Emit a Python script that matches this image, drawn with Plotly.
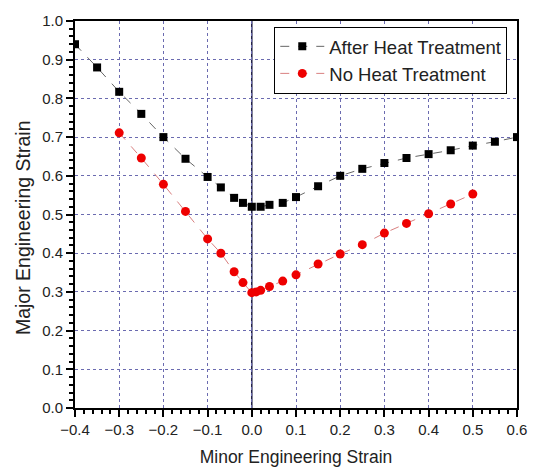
import plotly.graph_objects as go

after_x = [-0.4, -0.35, -0.3, -0.25, -0.2, -0.15, -0.1, -0.07, -0.04, -0.02, 0.0, 0.02, 0.04,
           0.07, 0.1, 0.15, 0.2, 0.25, 0.3, 0.35, 0.4, 0.45, 0.5, 0.55, 0.6]
after_y = [0.94, 0.88, 0.817, 0.76, 0.70, 0.644, 0.597, 0.57, 0.543, 0.53, 0.52, 0.52, 0.525,
           0.53, 0.545, 0.573, 0.60, 0.618, 0.633, 0.646, 0.656, 0.666, 0.678, 0.688, 0.70]
no_x = [-0.3, -0.25, -0.2, -0.15, -0.1, -0.07, -0.04, -0.02, 0.0, 0.01, 0.02, 0.04, 0.07,
        0.1, 0.15, 0.2, 0.25, 0.3, 0.35, 0.4, 0.45, 0.5]
no_y = [0.711, 0.646, 0.578, 0.508, 0.437, 0.40, 0.352, 0.324, 0.298, 0.300, 0.304, 0.314,
        0.328, 0.344, 0.372, 0.398, 0.422, 0.452, 0.477, 0.502, 0.527, 0.553]

x_title = "Minor Engineering Strain"
y_title = "Major Engineering Strain"

font = "Arial, Liberation Sans, sans-serif"

fig = go.Figure()
fig.add_trace(go.Scatter(x=after_x, y=after_y, mode="lines+markers", name="After Heat Treatment",
                         line=dict(color="#666666", width=1, dash="dash"),
                         marker=dict(symbol="square", size=8, color="black")))
fig.add_trace(go.Scatter(x=no_x, y=no_y, mode="lines+markers", name="No Heat Treatment",
                         line=dict(color="#d98080", width=1, dash="dash"),
                         marker=dict(symbol="circle", size=9, color="#ee0000")))

fig.add_shape(type="line", x0=0, x1=0, y0=0, y1=1, xref="x", yref="y",
              line=dict(color="#1a1a40", width=1.5), layer="below")

axis_common = dict(
    showline=True, linecolor="black", linewidth=2, mirror=True,
    ticks="outside", ticklen=7, tickwidth=1.5, tickcolor="black",
    showgrid=True, gridcolor="#6b6bb0", griddash="dot", gridwidth=1,
    zeroline=False, tickfont=dict(family=font, size=15, color="#222"),
    minor=dict(ticks="outside", ticklen=4, tickwidth=1.5, tickcolor="black", showgrid=False),
)

fig.update_xaxes(range=[-0.4, 0.6], dtick=0.1, tickformat=".1f",
                 title=dict(text=x_title, font=dict(family=font, size=17.5, color="#222"),
                            standoff=14),
                 **axis_common)
fig.update_yaxes(range=[0, 1.0], dtick=0.1, tickformat=".1f", **axis_common)

fig.add_annotation(text=y_title, xref="paper", yref="paper", x=-0.118, y=0.467,
                   xanchor="center", yanchor="middle", textangle=-90, showarrow=False,
                   font=dict(family=font, size=19.5, color="#222"))

fig.update_layout(
    width=539, height=476,
    margin=dict(l=75, r=16, t=15, b=63),
    plot_bgcolor="white", paper_bgcolor="white",
    font=dict(family=font, size=16, color="#222"),
    legend=dict(x=0.978, y=0.985, xanchor="right", yanchor="top",
                bgcolor="white", bordercolor="black", borderwidth=1,
                font=dict(family=font, size=18.5, color="#222"),
                tracegroupgap=0, itemwidth=44),
    showlegend=True,
)

fig.write_html("out.html")
